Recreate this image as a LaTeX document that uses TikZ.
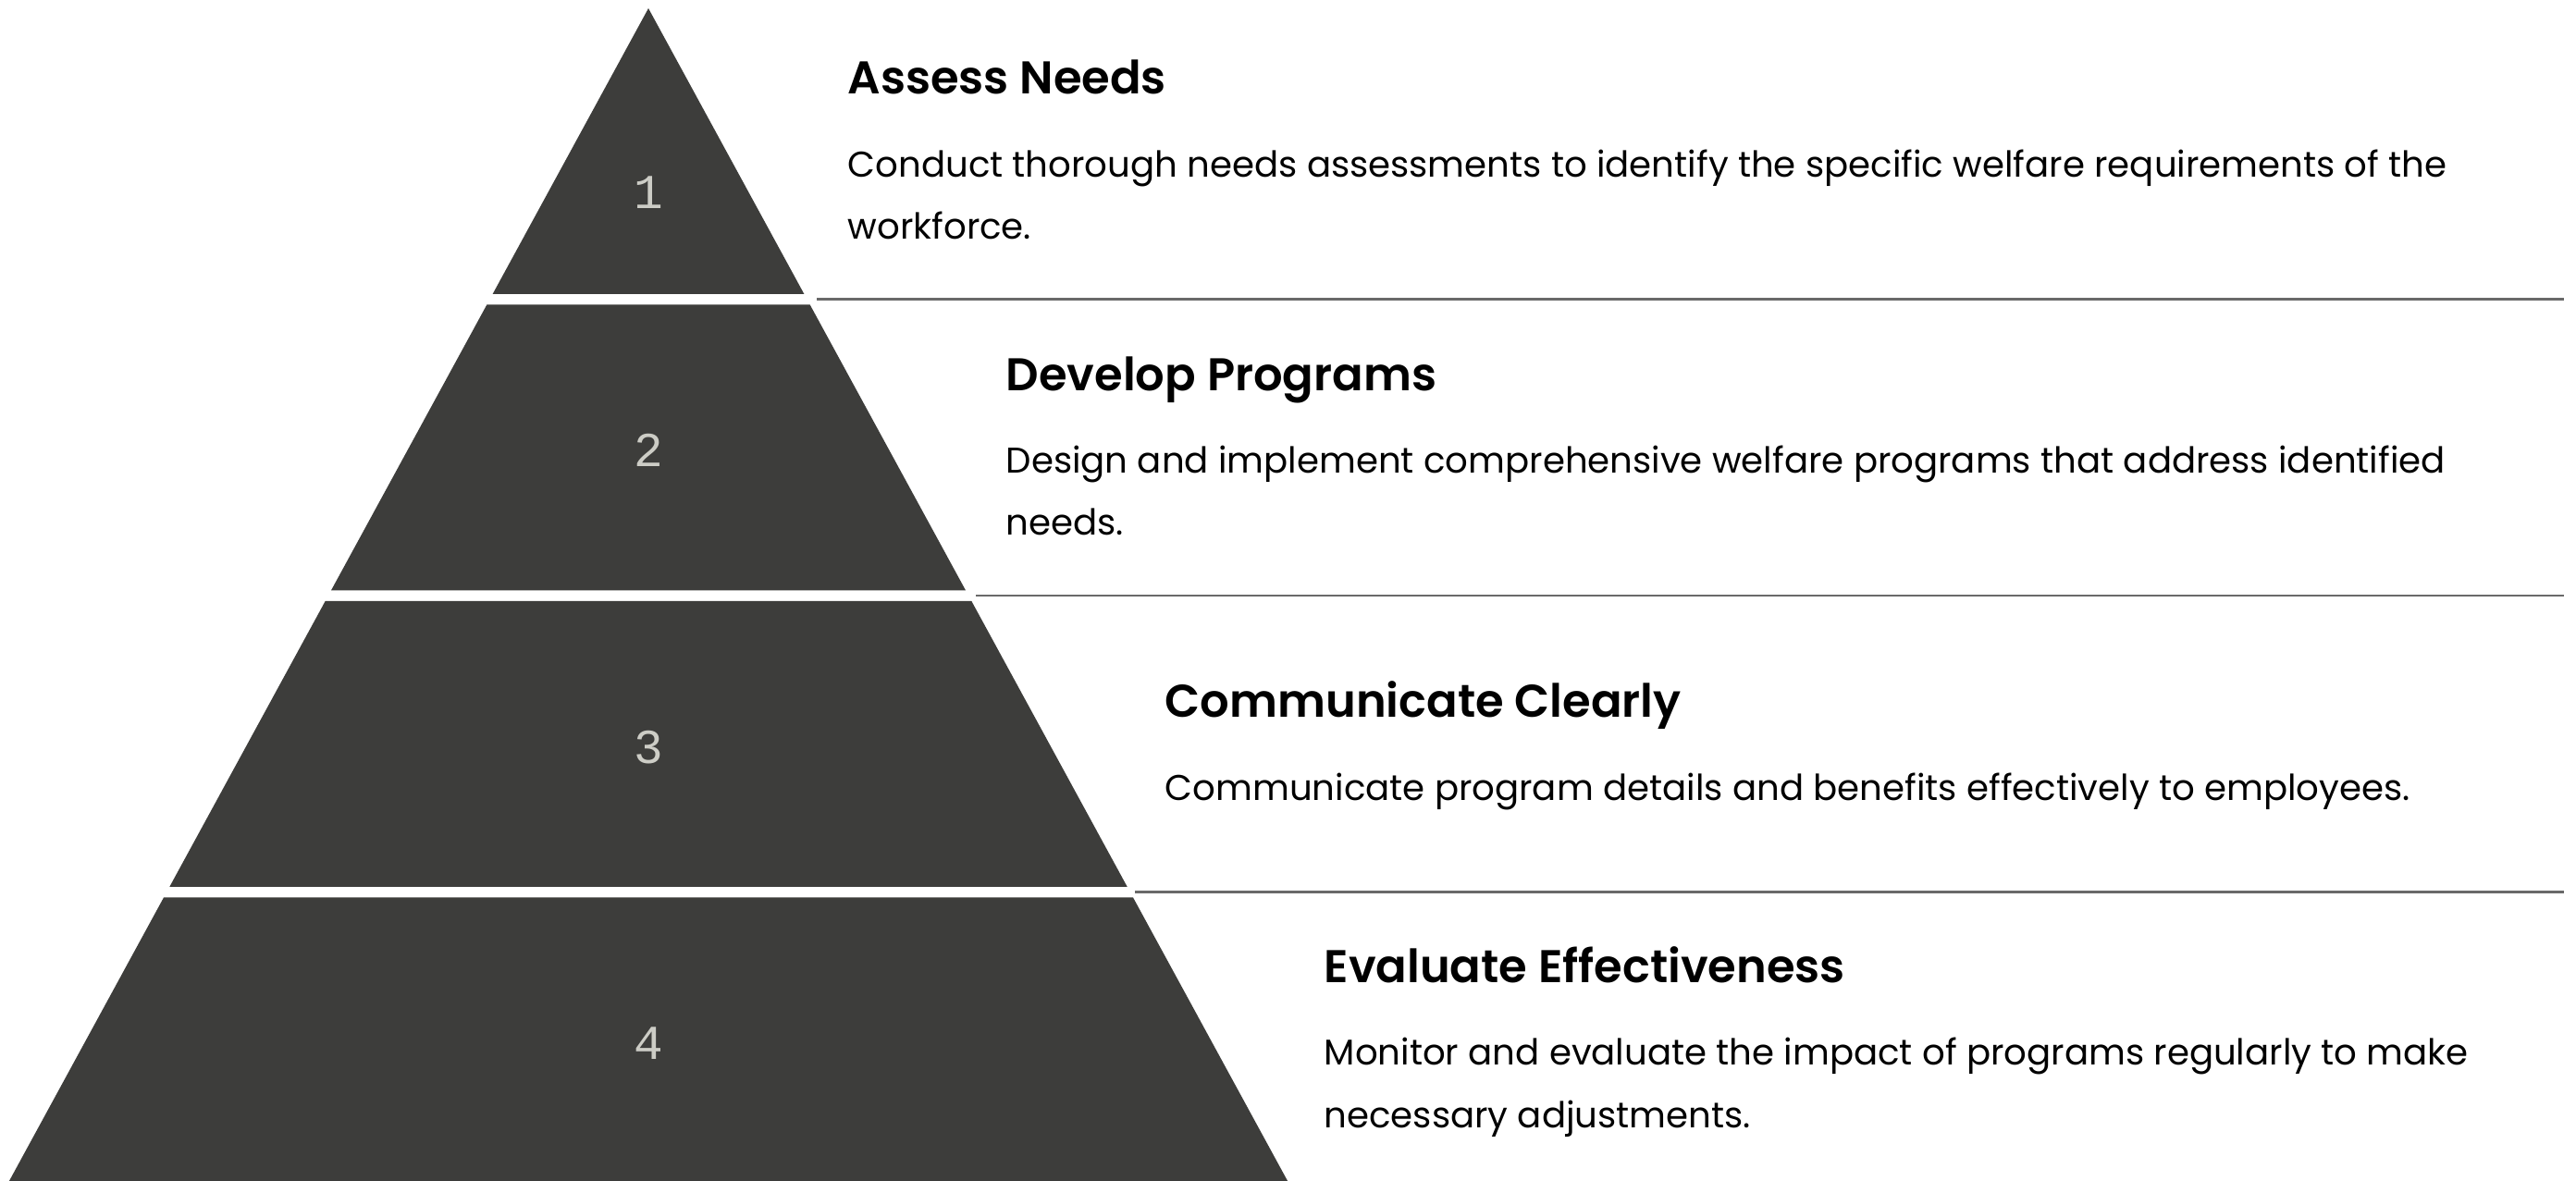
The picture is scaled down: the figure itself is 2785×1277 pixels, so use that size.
\documentclass[tikz,border=0pt]{standalone}
\usepackage{fontspec}
\setmainfont{Poppins}
\newfontfamily\headfont{Poppins SemiBold}
\newfontfamily\numfont{Liberation Mono}
\usepackage{tikz}

\definecolor{slate}{RGB}{61,61,59}
\definecolor{rulegray}{RGB}{105,105,105}
\definecolor{numgray}{RGB}{205,205,198}

\tikzstyle{tier} = [fill=slate]
\tikzstyle{rang} = [text=numgray, inner sep=0pt, font=\numfont\fontsize{15}{18}\selectfont]
\tikzstyle{heading} = [anchor=base west, inner sep=0pt, font=\headfont\fontsize{14.1}{18}\selectfont]
\tikzstyle{blurb} = [anchor=base west, inner sep=0pt, align=left, font=\fontsize{11}{19.06}\selectfont]
\tikzstyle{separe} = [draw=rulegray, line width=0.6pt]

\begin{document}
\begin{tikzpicture}[x=0.01cm, y=-0.01cm]
    \useasboundingbox (0,0) rectangle (2785,1277);

    % the four slices of the pyramid
    \foreach \i in {1,...,4}
    {
        \pgfmathsetmacro{\ytop}{9+(\i-1)*320.5}
        \pgfmathsetmacro{\ybot}{\ytop+309}
        \fill [tier] ({701-0.545*(\ytop-9)},\ytop) -- ({701+0.545*(\ytop-9)},\ytop)
            -- ({701+0.545*(\ybot-9)},\ybot) -- ({701-0.545*(\ybot-9)},\ybot) -- cycle;
    }

    \foreach \i/\y in {1/208, 2/487, 3/808, 4/1128}
    {
        \node [rang] (n\i) at (701,\y) {\i};
    }

    % separators
    \draw [separe] (883,323.5) -- (2772,323.5);
    \draw [separe] (1055,644) -- (2772,644);
    \draw [separe] (1227,964.5) -- (2772,964.5);

    % base anchor of a two-line blurb sits on its last line
    \node [heading] (h1) at (916,102) {Assess Needs};
    \node [blurb] (d1) at (916,259) {Conduct thorough needs assessments to identify the specific welfare requirements of the\\workforce.};

    \node [heading] (h2) at (1087,423) {Develop Programs};
    \node [blurb] (d2) at (1087,579) {Design and implement comprehensive welfare programs that address identified\\needs.};

    \node [heading] (h3) at (1259,776) {Communicate Clearly};
    \node [blurb] (d3) at (1259,866) {Communicate program details and benefits effectively to employees.};

    \node [heading] (h4) at (1431,1063) {Evaluate Effectiveness};
    \node [blurb] (d4) at (1431,1219) {Monitor and evaluate the impact of programs regularly to make\\necessary adjustments.};
\end{tikzpicture}
\end{document}
